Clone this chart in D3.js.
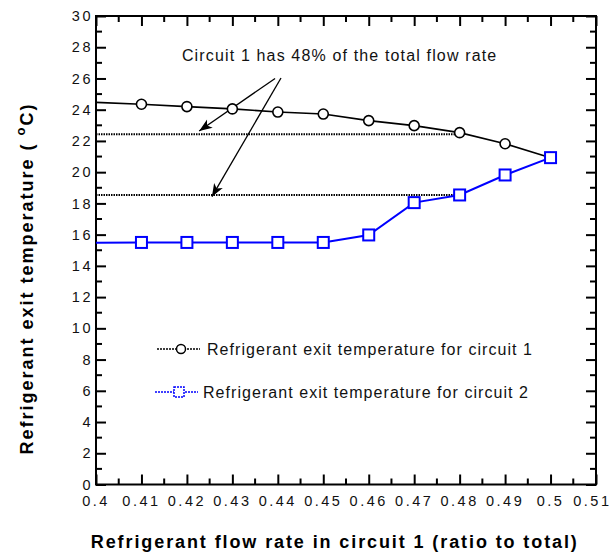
<!DOCTYPE html>
<html>
<head>
<meta charset="utf-8">
<script src="https://cdn.jsdelivr.net/npm/d3@7"></script>
<style>
  html, body { margin: 0; padding: 0; background: #fff; }
  svg { display: block; font-family: "Liberation Sans", Arial, sans-serif; }
</style>
</head>
<body>
<svg id="chart" width="612" height="554"></svg>
<script>
// Flow ratio of circuit 1 (fraction of total refrigerant flow)
const flowRatio = [0.40, 0.41, 0.42, 0.43, 0.44, 0.45, 0.46, 0.47, 0.48, 0.49, 0.50];
// Refrigerant exit temperatures (°C)
const circuit1Temp = [24.47, 24.35, 24.2, 24.05, 23.85, 23.72, 23.3, 22.98, 22.53, 21.82, 20.93];
const circuit2Temp = [15.48, 15.5, 15.5, 15.5, 15.5, 15.5, 15.98, 18.05, 18.54, 19.82, 20.93];

// Design point: 48 % of the flow in circuit 1
const designRatio = 0.48;
const guideTemps = [22.42, 18.54];

const xTickValues = [0.40, 0.41, 0.42, 0.43, 0.44, 0.45, 0.46, 0.47, 0.48, 0.49, 0.50, 0.51];
const xTickLabels = ["0.4", "0.41", "0.42", "0.43", "0.44", "0.45", "0.46", "0.47", "0.48", "0.49", "0.5", "0.51"];
const yTickValues = d3.range(0, 31, 2);
const yTickLabels = yTickValues.map(String);

const seriesNames = [
  "Refrigerant exit temperature for circuit 1",
  "Refrigerant exit temperature for circuit 2"
];
const noteText = "Circuit 1 has 48% of the total flow rate";
// Annotation anchor and arrow ends, in data units [ratio, temperature]
const notePos = [0.4189, 27.12];
const arrowStarts = [[0.4394, 26.0], [0.4407, 26.03]];
const arrowEnds = [[0.4227, 22.64], [0.4255, 18.43]];

const svg = d3.select("#chart");
const W = 612;
const plotL = 96, plotR = 596, plotT = 16, plotB = 484.5;

const x = d3.scaleLinear().domain([0.40, 0.51]).range([plotL, plotR]);
const y = d3.scaleLinear().domain([0, 30]).range([plotB, plotT]);

// Minor tick positions halfway between majors
const xMinor = d3.range(0, xTickValues.length - 1).map(i => (xTickValues[i] + xTickValues[i + 1]) / 2);
const yMinor = d3.range(1, 30, 2);

const tickFont = g => g.selectAll("text")
  .attr("font-size", 14.5)
  .attr("letter-spacing", "2.5px")
  .attr("fill", "#111");

// Bottom axis with labels
svg.append("g")
  .attr("transform", `translate(0,${plotB})`)
  .call(d3.axisBottom(x).tickValues(xTickValues).tickFormat((d, i) => xTickLabels[i])
    .tickSize(-10).tickSizeOuter(0).tickPadding(11))
  .call(g => g.select(".domain").remove())
  .call(g => g.selectAll("line").attr("stroke-width", 2))
  .call(tickFont)
  .call(g => g.selectAll("text").attr("dx", "-0.5px"))
  // keep the last label inside the page edge
  .call(g => g.selectAll(".tick").filter((d, i, n) => i === n.length - 1).select("text")
    .attr("text-anchor", "end").attr("dx", null).attr("x", W - 1 - x(0.51)));

// Left axis with labels
svg.append("g")
  .attr("transform", `translate(${plotL},0)`)
  .call(d3.axisLeft(y).tickValues(yTickValues).tickFormat((d, i) => yTickLabels[i])
    .tickSize(-10).tickSizeOuter(0).tickPadding(3))
  .call(g => g.select(".domain").remove())
  .call(g => g.selectAll("line").attr("stroke-width", 2))
  .call(tickFont);

// Top and right axes: inward ticks only
svg.append("g")
  .attr("transform", `translate(0,${plotT})`)
  .call(d3.axisTop(x).tickValues(xTickValues).tickFormat("").tickSize(-10).tickSizeOuter(0))
  .call(g => g.select(".domain").remove())
  .call(g => g.selectAll("line").attr("stroke-width", 2));
svg.append("g")
  .attr("transform", `translate(${plotR},0)`)
  .call(d3.axisRight(y).tickValues(yTickValues).tickFormat("").tickSize(-10).tickSizeOuter(0))
  .call(g => g.select(".domain").remove())
  .call(g => g.selectAll("line").attr("stroke-width", 2));

// Minor ticks on all four sides
const minor = svg.append("g").attr("stroke", "#000").attr("stroke-width", 2);
xMinor.forEach(v => {
  minor.append("line").attr("x1", x(v)).attr("x2", x(v)).attr("y1", plotB).attr("y2", plotB - 6);
  minor.append("line").attr("x1", x(v)).attr("x2", x(v)).attr("y1", plotT).attr("y2", plotT + 6);
});
yMinor.forEach(v => {
  minor.append("line").attr("y1", y(v)).attr("y2", y(v)).attr("x1", plotL).attr("x2", plotL + 6);
  minor.append("line").attr("y1", y(v)).attr("y2", y(v)).attr("x1", plotR).attr("x2", plotR - 6);
});

// Frame
svg.append("rect")
  .attr("x", plotL).attr("y", plotT)
  .attr("width", plotR - plotL).attr("height", plotB - plotT)
  .attr("fill", "none").attr("stroke", "#000").attr("stroke-width", 2);

// Dotted guide lines to the design point
svg.append("g").selectAll("line").data(guideTemps).join("line")
  .attr("x1", x(0.40)).attr("x2", x(designRatio))
  .attr("y1", d => y(d)).attr("y2", d => y(d))
  .attr("stroke", "#000").attr("stroke-width", 2).attr("stroke-dasharray", "1.5,1");

// Arrow marker
svg.append("defs").append("marker")
  .attr("id", "head").attr("markerUnits", "userSpaceOnUse")
  .attr("viewBox", "-14 -6 16 12").attr("refX", 0).attr("refY", 0)
  .attr("markerWidth", 16).attr("markerHeight", 12).attr("orient", "auto")
  .append("path").attr("d", "M0,0L-13,-5L-9.5,0L-13,5Z").attr("fill", "#000");

svg.append("g").selectAll("line").data(arrowStarts).join("line")
  .attr("x1", d => x(d[0])).attr("y1", d => y(d[1]))
  .attr("x2", (d, i) => x(arrowEnds[i][0])).attr("y2", (d, i) => y(arrowEnds[i][1]))
  .attr("stroke", "#000").attr("stroke-width", 1.3).attr("marker-end", "url(#head)");

svg.append("text")
  .attr("x", x(notePos[0])).attr("y", y(notePos[1]))
  .attr("font-size", 16).attr("letter-spacing", "1.15px").attr("fill", "#111")
  .text(noteText);

// Series lines
const line = d3.line().x((d, i) => x(flowRatio[i])).y(d => y(d));
svg.append("path").datum(circuit1Temp).attr("d", line)
  .attr("fill", "none").attr("stroke", "#000").attr("stroke-width", 1.6);
svg.append("path").datum(circuit2Temp).attr("d", line)
  .attr("fill", "none").attr("stroke", "#0000ff").attr("stroke-width", 2);

// Markers (the first point sits on the axis and carries no marker)
const idx = d3.range(1, flowRatio.length);
svg.append("g").selectAll("circle").data(idx).join("circle")
  .attr("cx", i => x(flowRatio[i])).attr("cy", i => y(circuit1Temp[i])).attr("r", 5)
  .attr("fill", "#fff").attr("stroke", "#000").attr("stroke-width", 1.6);
const sq = 11;
svg.append("g").selectAll("rect").data(idx).join("rect")
  .attr("x", i => x(flowRatio[i]) - sq / 2).attr("y", i => y(circuit2Temp[i]) - sq / 2)
  .attr("width", sq).attr("height", sq)
  .attr("fill", "#fff").attr("stroke", "#0000ff").attr("stroke-width", 2);

// Legend
const legend = svg.append("g");
const rows = [
  { y: 349, x0: 157, x1: 200, mx: 181, tx: 207, color: "#000", shape: "circle" },
  { y: 392, x0: 155, x1: 198, mx: 179, tx: 203, color: "#0000ff", shape: "square" }
];
rows.forEach((r, i) => {
  legend.append("line").attr("x1", r.x0).attr("x2", r.x1).attr("y1", r.y).attr("y2", r.y)
    .attr("stroke", r.color).attr("stroke-width", 1.5).attr("stroke-dasharray", "2,1");
  if (r.shape === "circle") {
    legend.append("circle").attr("cx", r.mx).attr("cy", r.y).attr("r", 4.5)
      .attr("fill", "#fff").attr("stroke", r.color).attr("stroke-width", 1.5);
  } else {
    legend.append("rect").attr("x", r.mx - 5).attr("y", r.y - 5).attr("width", 10).attr("height", 10)
      .attr("fill", "#fff").attr("stroke", r.color).attr("stroke-width", 1.5).attr("stroke-dasharray", "2,1");
  }
  legend.append("text").attr("x", r.tx).attr("y", r.y + 5.5)
    .attr("font-size", 16).attr("letter-spacing", "1.05px").attr("fill", "#111")
    .text(seriesNames[i]);
});

// Axis titles
svg.append("text")
  .attr("x", 334.8).attr("y", 548)
  .attr("text-anchor", "middle").attr("font-size", 18).attr("font-weight", "bold")
  .attr("letter-spacing", "1.9px")
  .text("Refrigerant flow rate in circuit 1 (ratio to total)");

const yt = svg.append("text")
  .attr("transform", "translate(33,278.5) rotate(-90)")
  .attr("text-anchor", "middle").attr("font-size", 18).attr("font-weight", "bold")
  .attr("letter-spacing", "2px");
yt.append("tspan").text("Refrigerant exit temperature ( ");
yt.append("tspan").attr("font-size", 13).attr("dy", -8).text("o");
yt.append("tspan").attr("dy", 8).text("C)");
</script>
</body>
</html>
